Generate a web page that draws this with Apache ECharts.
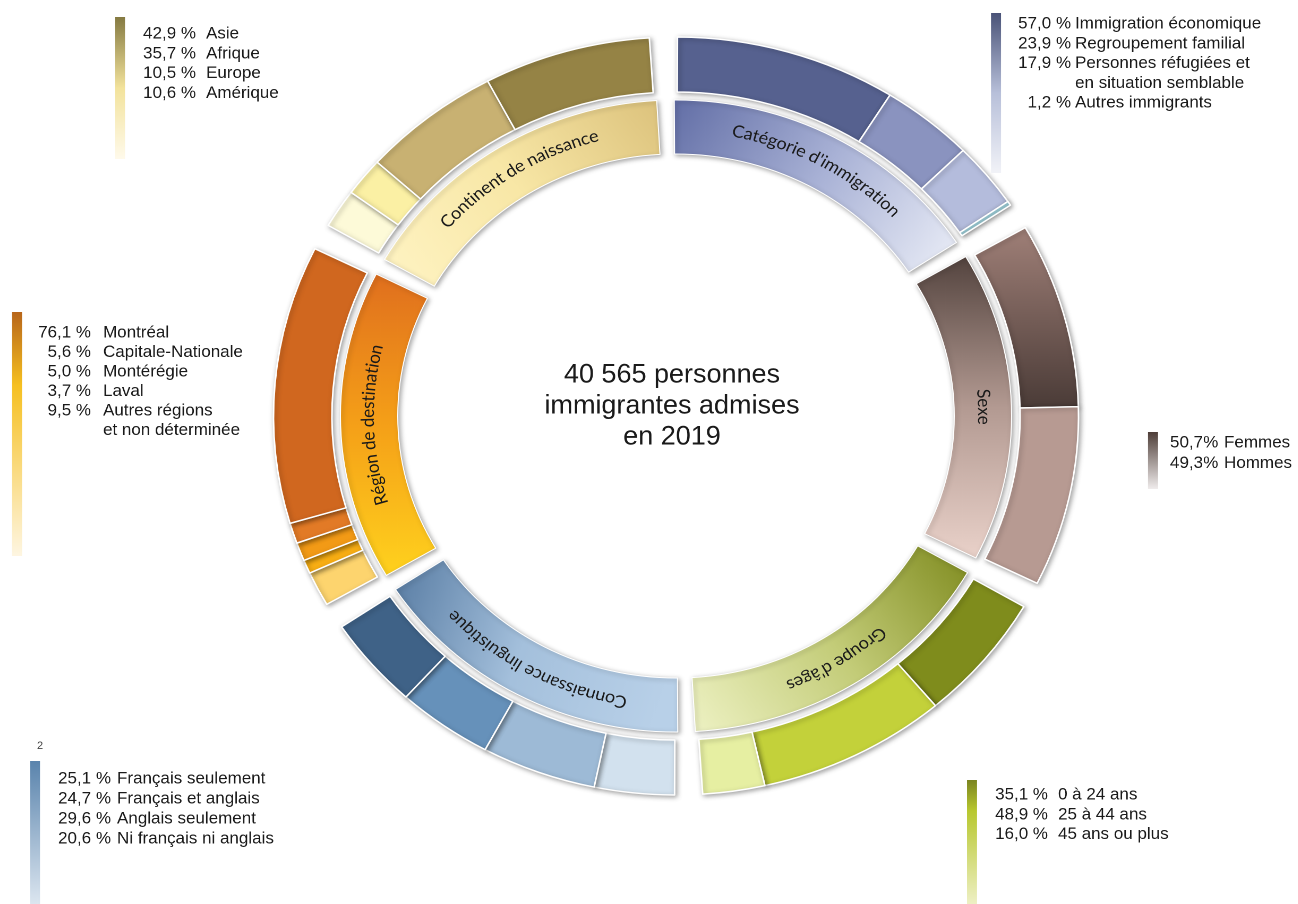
<!DOCTYPE html>
<html>
<head>
<meta charset="utf-8">
<script src="https://cdn.jsdelivr.net/npm/echarts@6/dist/echarts.min.js"></script>
<style>
html,body{margin:0;padding:0;background:#fff;overflow:hidden;}
#chart{width:1298px;height:904px;transform:scaleX(1.062);transform-origin:676px 0;}
</style>
</head>
<body>
<div id="chart"></div>
<script>
// ---------- data ----------
const groupNames = ["Catégorie d'immigration", "Sexe", "Groupe d'âges", "Connaissance linguistique", "Région de destination", "Continent de naissance"];

const categorieLabels = ["Immigration économique", "Regroupement familial", "Personnes réfugiées et\nen situation semblable", "Autres immigrants"];
const categorieValues = [57.0, 23.9, 17.9, 1.2];

const sexeLabels = ["Femmes", "Hommes"];
const sexeValues = [50.7, 49.3];

const ageLabels = ["0 à 24 ans", "25 à 44 ans", "45 ans ou plus"];
const ageValues = [35.1, 48.9, 16.0];

const langueLabels = ["Français seulement", "Français et anglais", "Anglais seulement", "Ni français ni anglais"];
const langueValues = [25.1, 24.7, 29.6, 20.6];

const regionLabels = ["Montréal", "Capitale-Nationale", "Montérégie", "Laval", "Autres régions\net non déterminée"];
const regionValues = [76.1, 5.6, 5.0, 3.7, 9.5];

const continentLabels = ["Asie", "Afrique", "Europe", "Amérique"];
const continentValues = [42.9, 35.7, 10.5, 10.6];

const totalText = ["40 565 personnes", "immigrantes admises", "en 2019"];

// ---------- styles ----------
const G = echarts.graphic;
function lg(x, y, x2, y2, stops) {
  return new G.LinearGradient(x, y, x2, y2, stops.map((c, i) => typeof c === 'string' ? { offset: i / (stops.length - 1), color: c } : c));
}
const outerColors = {
  cat: ['#56618f', '#8a93bf', '#b4bcdc', '#9fd0da'],
  sexe: [lg(0, 0, 0, 1, ['#a08078', '#4a3b37']), '#b79a92'],
  age: ['#7f8c1c', '#c3d13a', '#e6efa2'],
  langue: ['#3f6287', '#6691ba', '#9dbad6', '#d2e1ee'],
  region: ['#d0671f', '#e27a26', '#f29a16', '#f8ae14', '#fdd46e'],
  continent: ['#958345', '#c8b172', '#fbf0a4', '#fdfad8']
};
const innerColors = [
  lg(0, 0, 1, 1, ['#626ea6', '#a9b2d6', '#eceff8']),
  lg(0, 0, 0, 1, ['#54443f', '#b39a92', '#ead2ca']),
  lg(1, 0, 0, 1, ['#7f8b1f', '#c3cc78', '#eef2c4']),
  lg(0, 0, 1, 0.5, ['#587ca3', '#a4c0dc', '#b8d0e8']),
  lg(0, 0, 0, 1, ['#e06f1e', '#f5a018', '#ffd21e']),
  lg(0, 1, 1, 0, ['#fff4c4', '#f8e7a6', '#dcc27c'])
];

const outerGroups = [
  { labels: categorieLabels, values: categorieValues, colors: outerColors.cat, reverse: false },
  { labels: sexeLabels, values: sexeValues, colors: outerColors.sexe, reverse: false },
  { labels: ageLabels, values: ageValues, colors: outerColors.age, reverse: false },
  { labels: langueLabels, values: langueValues, colors: outerColors.langue, reverse: true },
  { labels: regionLabels, values: regionValues, colors: outerColors.region, reverse: true },
  { labels: continentLabels, values: continentValues, colors: outerColors.continent, reverse: true }
];

// layout (the canvas is stretched horizontally by S through CSS -> elliptical rings)
const S = 1.062, OX = 676;
const tx = x => OX + (x - OX) / S;
const CENTER = [676, 416];
const R_IN = [262, 316], R_OUT = [324, 379];
const BOUNDARY0 = -1.8;
const IN_GAP = 3.0, OUT_GAP = 4.0;
const SECTOR = 360 / groupNames.length;

const gapItem = (v, k) => ({
  name: 'gap' + k, value: v,
  itemStyle: { color: 'rgba(0,0,0,0)', borderWidth: 0, shadowBlur: 0, shadowColor: 'rgba(0,0,0,0)' },
  label: { show: false }, emphasis: { disabled: true }, tooltip: { show: false }
});

const innerData = [];
const midAngles = [];
groupNames.forEach((name, gi) => {
  const start = BOUNDARY0 + gi * SECTOR + IN_GAP / 2;
  midAngles.push(start + (SECTOR - IN_GAP) / 2);
  innerData.push({ name: name, value: SECTOR - IN_GAP, itemStyle: { color: innerColors[gi] } });
  innerData.push(gapItem(IN_GAP, 'i' + gi));
});

const outerData = [];
outerGroups.forEach((g, gi) => {
  const sum = g.values.reduce((a, b) => a + b, 0);
  const idx = g.values.map((_, i) => i);
  if (g.reverse) idx.reverse();
  idx.forEach(i => {
    outerData.push({ name: g.labels[i], value: g.values[i] / sum * (SECTOR - OUT_GAP), itemStyle: { color: g.colors[i] } });
  });
  outerData.push(gapItem(OUT_GAP, 'o' + gi));
});

const graphics = [];

// ---------- curved labels of the inner ring ----------
const RING_FONT = '17px Lato, "Open Sans", sans-serif';
const mctx = document.createElement('canvas').getContext('2d');
mctx.font = RING_FONT;
const rMid = (R_IN[0] + R_IN[1]) / 2 + 1;
groupNames.forEach((name, gi) => {
  const chars = Array.from(name);
  const widths = chars.map(c => mctx.measureText(c).width);
  const total = widths.reduce((a, b) => a + b, 0);
  let acc = 0;
  chars.forEach((c, k) => {
    const off = acc + widths[k] / 2 - total / 2;
    acc += widths[k];
    const phi = (midAngles[gi] * Math.PI / 180) + off / rMid;
    graphics.push({
      type: 'text', silent: true, z: 100, zlevel: 0,
      x: CENTER[0] + rMid * Math.sin(phi), y: CENTER[1] - rMid * Math.cos(phi),
      rotation: -phi,
      style: { text: c, x: 0, y: 0, font: RING_FONT, fill: '#1a1a1a', align: 'center', verticalAlign: 'middle' }
    });
  });
});

// ---------- legends (counter-scaled so text keeps its shape) ----------
const fmt = (v, sp) => v.toFixed(1).replace('.', ',') + (sp ? ' %' : '%');
const LFONT = '17px "Liberation Sans", Arial, sans-serif';
function addText(text, x, y, align, font, fill) {
  graphics.push({ type: 'text', silent: true, z: 100, x: tx(x), y: y, scaleX: 1 / S,
    style: { text: text, x: 0, y: 0, font: font || LFONT, fill: fill || '#1a1a1a', align: align, verticalAlign: 'middle', lineHeight: 31 } });
}
function legend(bar, stops, pctX, pctAlign, nameX, y0, labels, values, rowH, sp) {
  graphics.push({ type: 'rect', silent: true, z: 100, x: tx(bar[0]), y: bar[1], scaleX: 1 / S,
    shape: { x: 0, y: 0, width: bar[2], height: bar[3] }, style: { fill: lg(0, 0, 0, 1, stops) } });
  let y = y0;
  labels.forEach((lab, i) => {
    addText(fmt(values[i], sp), pctX, y, pctAlign);
    const lines = lab.split('\n');
    lines.forEach((ln, k) => addText(ln, nameX, y + k * rowH, 'left'));
    y += lines.length * rowH;
  });
}
legend([115, 17, 10, 142], ['#857a42', '#f3e39c', '#fffaeb'], 196, 'right', 206, 34, continentLabels, continentValues, 19.7, true);
legend([991, 13, 10, 160], ['#4a5378', '#b8c0da', '#f2f3f8'], 1071, 'right', 1075, 24, categorieLabels, categorieValues, 19.7, true);
legend([12, 312, 10, 244], [{offset:0,color:'#b8661a'},{offset:0.3,color:'#f6c020'},{offset:1,color:'#fef6e2'}], 91, 'right', 103, 333, regionLabels, regionValues, 19.5, true);
legend([1148, 432, 10, 57], ['#4e3e38', '#f0ecec'], 1170, 'left', 1224, 443, sexeLabels, sexeValues, 20.5, false);
legend([30, 761, 10, 143], ['#5a84ad', '#dce6f0'], 111, 'right', 117, 779, langueLabels, langueValues, 20, true);
legend([967, 780, 10, 124], [{offset:0,color:'#7a8420'},{offset:0.25,color:'#b8c830'},{offset:1,color:'#eef0c4'}], 1048, 'right', 1058, 795, ageLabels, ageValues, 19.7, true);

addText('2', 40, 746, 'center', '11px "Liberation Sans", Arial, sans-serif', '#444');
addText(totalText.join('\n'), 672, 406, 'center', '27px "Liberation Sans", Arial, sans-serif');

// ---------- chart ----------
const chart = echarts.init(document.getElementById('chart'), null, { renderer: 'canvas', devicePixelRatio: 2 });
const shadow = { shadowBlur: 5, shadowColor: 'rgba(0,0,0,0.35)', shadowOffsetX: 1.5, shadowOffsetY: 1.5 };
chart.setOption({
  backgroundColor: '#ffffff',
  animation: false,
  series: [
    {
      type: 'pie', name: 'inner', center: CENTER, radius: R_IN, z: 2,
      startAngle: 90 - (BOUNDARY0 + IN_GAP / 2), clockwise: true, avoidLabelOverlap: false, silent: true,
      itemStyle: Object.assign({ borderColor: '#ffffff', borderWidth: 1 }, shadow),
      label: { show: false }, labelLine: { show: false },
      data: innerData
    },
    {
      type: 'pie', name: 'outer', center: CENTER, radius: R_OUT, z: 2,
      startAngle: 90 - (BOUNDARY0 + OUT_GAP / 2), clockwise: true, avoidLabelOverlap: false, silent: true,
      itemStyle: Object.assign({ borderColor: '#ffffff', borderWidth: 1.5 }, shadow),
      label: { show: false }, labelLine: { show: false },
      data: outerData
    }
  ],
  graphic: { elements: graphics }
});
</script>
</body>
</html>
